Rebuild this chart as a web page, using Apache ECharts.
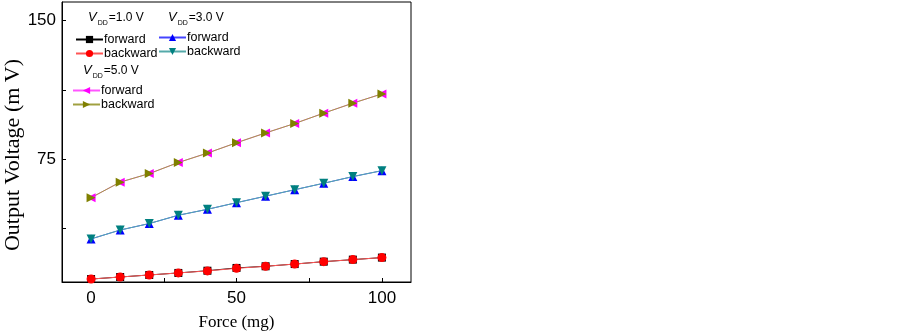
<!DOCTYPE html>
<html>
<head>
<meta charset="utf-8">
<script src="https://cdn.jsdelivr.net/npm/echarts@6/dist/echarts.min.js"></script>
<style>html,body{margin:0;padding:0;background:#fff;}#c{width:903px;height:334px;}</style>
</head>
<body>
<div id="c"></div>
<script>
var force = [0, 10, 20, 30, 40, 50, 60, 70, 80, 90, 100];
var v1Forward  = [10.2, 11.3, 12.4, 13.5, 14.7, 16.2, 17.1, 18.3, 19.6, 20.7, 21.8];
var v1Backward = [10.2, 11.3, 12.4, 13.5, 14.6, 16.0, 17.1, 18.3, 19.6, 20.7, 21.8];
var v3Forward  = [31.9, 36.7, 40.2, 44.7, 47.9, 51.5, 55.0, 58.5, 62.0, 65.6, 68.8];
var v3Backward = [31.9, 36.7, 40.2, 44.7, 47.9, 51.5, 55.0, 58.5, 62.0, 65.6, 68.8];
var v5Forward  = [54.2, 62.6, 67.2, 73.2, 78.3, 83.9, 89.2, 94.3, 99.9, 105.3, 110.3];
var v5Backward = [54.2, 62.6, 67.2, 73.2, 78.3, 83.9, 89.2, 94.3, 99.9, 105.3, 110.3];
var xTickLabels = [0, 50, 100];
var xTicks = [0, 25, 50, 75, 100];
var yTickLabels = [75, 150];
var yTicks = [37.5, 75, 112.5, 150];

function pairs(ys) { return force.map(function (x, i) { return [x, ys[i]]; }); }

var chart = echarts.init(document.getElementById('c'), null, {renderer: 'canvas'});

function ser(name, data, color, lineColor, symbol, rot, size) {
  return {
    name: name, type: 'line', data: pairs(data),
    symbol: symbol, symbolRotate: rot, symbolSize: size,
    itemStyle: {color: color},
    lineStyle: {color: lineColor, width: 1},
    emphasis: {disabled: true}, animation: false
  };
}

var legendText = {fontFamily: 'Liberation Sans, Arial, sans-serif', fontSize: 12.5, color: '#000', padding: [0, 0, 0, -4]};
function fmt(name) { return name.replace(/\d/g, ''); }
function legend(left, top, names) {
  return {
    left: left, top: top, orient: 'vertical', data: names,
    itemWidth: 27, itemHeight: 9, itemGap: 1,
    formatter: fmt, textStyle: legendText, padding: 0, selectedMode: false
  };
}

function header(x, y, val) {
  return {
    type: 'text', left: x, top: y,
    style: {
      text: '{v|V}{s|DD}{n|=' + val + ' V}',
      rich: {
        v: {fontFamily: 'Liberation Sans, Arial', fontStyle: 'italic', fontSize: 13, fill: '#000'},
        s: {fontFamily: 'Liberation Sans, Arial', fontSize: 7, fill: '#000', padding: [11, 0, 0, 1]},
        n: {fontFamily: 'Liberation Sans, Arial', fontSize: 12, fill: '#000', padding: [0, 0, 0, 1]}
      }
    }
  };
}

chart.setOption({
  animation: false,
  backgroundColor: '#fff',
  grid: {left: 62, right: 492, top: 2, bottom: 52, show: true, borderColor: '#000', borderWidth: 1,
         containLabel: false, outerBoundsMode: 'none'},
  xAxis: {
    type: 'value', min: -10, max: 110,
    name: 'Force (mg)', nameLocation: 'middle', nameGap: 32,
    nameTextStyle: {fontFamily: 'Liberation Serif, Times New Roman, serif', fontSize: 17, color: '#000'},
    axisLine: {show: true, onZero: false, lineStyle: {color: '#000', width: 1}},
    axisTick: {show: true, inside: true, length: 4, customValues: xTicks, lineStyle: {color: '#000'}},
    axisLabel: {customValues: xTickLabels, fontFamily: 'Liberation Sans, Arial, sans-serif', fontSize: 17, color: '#000', margin: 8},
    splitLine: {show: false}
  },
  yAxis: {
    type: 'value', min: 8.6, max: 160,
    name: 'Output Voltage (m V)', nameLocation: 'middle', nameGap: 33,
    nameTextStyle: {fontFamily: 'Liberation Serif, Times New Roman, serif', fontSize: 22, color: '#000', padding: [0, 26, 0, 0]},
    axisLine: {show: true, onZero: false, lineStyle: {color: '#000', width: 1}},
    axisTick: {show: true, inside: true, length: 4, customValues: yTicks, lineStyle: {color: '#000'}},
    axisLabel: {customValues: yTickLabels, fontFamily: 'Liberation Sans, Arial, sans-serif', fontSize: 17, color: '#000', margin: 6},
    splitLine: {show: false}
  },
  legend: [
    legend(75, 33, ['forward1', 'backward1']),
    legend(158, 31, ['forward3', 'backward3']),
    legend(72, 84, ['forward5', 'backward5'])
  ],
  graphic: [
    header(88, 11, '1.0'),
    header(168, 11, '3.0'),
    header(83, 64, '5.0')
  ],
  series: [
    ser('forward1', v1Forward, '#000000', '#000000', 'rect', 0, 8),
    ser('backward1', v1Backward, '#ff0000', '#ff5555', 'circle', 0, 9),
    ser('forward3', v3Forward, '#0000ff', '#4444ff', 'triangle', 0, 9),
    ser('backward3', v3Backward, '#008080', '#55aaaa', 'triangle', 180, 9),
    ser('forward5', v5Forward, '#ff00ff', '#ff55ff', 'triangle', 90, 9),
    ser('backward5', v5Backward, '#808000', '#a0a040', 'triangle', -90, 9)
  ]
});
</script>
</body>
</html>
